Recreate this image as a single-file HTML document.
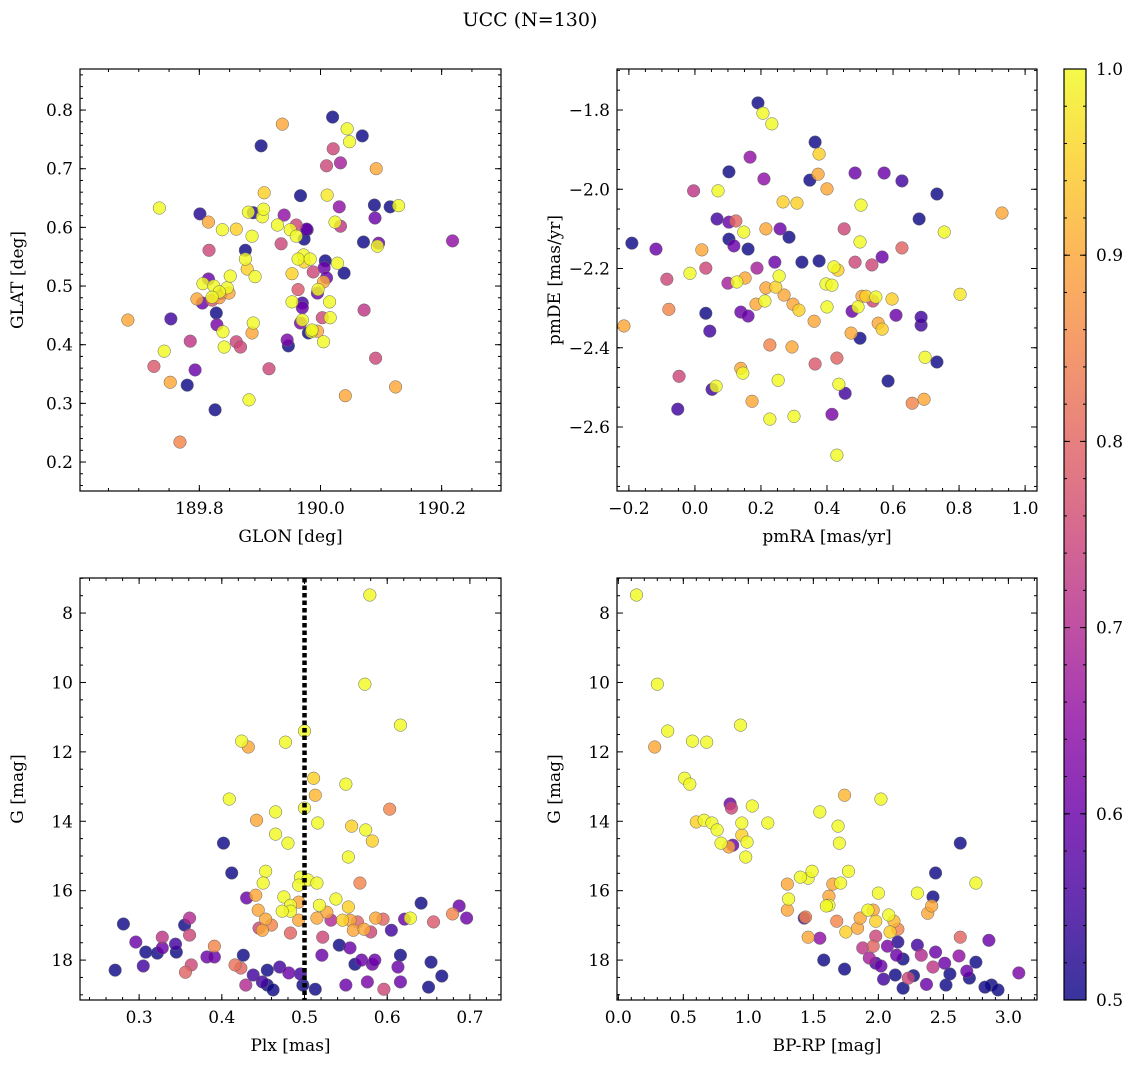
<!DOCTYPE html>
<html><head><meta charset="utf-8">
<style>
body{margin:0;background:#fff;}
svg text{font-family:"DejaVu Serif","Liberation Serif",serif;fill:#000;}
</style></head>
<body>
<svg id="fig" width="1136" height="1068" xmlns="http://www.w3.org/2000/svg">
<defs>
<linearGradient id="plasma" x1="0" y1="1" x2="0" y2="0">
<stop offset="0" stop-color="#0d0887"/><stop offset="0.1" stop-color="#41049d"/><stop offset="0.2" stop-color="#6a00a8"/><stop offset="0.3" stop-color="#8f0da4"/><stop offset="0.4" stop-color="#b12a90"/><stop offset="0.5" stop-color="#cc4778"/><stop offset="0.6" stop-color="#e16462"/><stop offset="0.7" stop-color="#f2844b"/><stop offset="0.8" stop-color="#fca636"/><stop offset="0.9" stop-color="#fcce25"/><stop offset="1" stop-color="#f0f921"/>
</linearGradient>
</defs>
<text x="530" y="26" font-size="19" text-anchor="middle">UCC (N=130)</text>
</svg>
<script>
// Panel 1: GLON / GLAT
const p1Glon=[190.02,190.044,190.069,190.048,189.937,189.902,190.021,190.092,190.010,190.033,189.734,189.801,189.907,189.967,190.011,190.089,190.129,190.115,190.031,189.815,189.838,189.861,189.889,189.881,189.904,189.906,189.929,189.940,189.960,189.978,189.977,190.024,190.033,190.090,189.950,189.887,189.935,189.960,189.973,190.071,190.094,190.096,190.218,189.876,189.816,189.972,189.963,189.983,190.008,189.876,190.028,189.973,190.006,189.988,189.879,190.039,189.953,189.892,190.010,189.815,189.806,189.824,189.846,189.833,189.821,189.849,189.796,189.805,189.821,189.833,189.836,189.851,189.996,189.963,189.995,190.005,189.953,189.970,190.015,190.003,190.072,189.970,189.828,189.829,189.839,189.889,189.970,190.016,189.887,189.841,189.861,189.868,189.945,189.947,189.980,189.985,189.986,189.995,190.005,189.967,189.742,189.752,189.725,189.682,189.753,189.793,189.780,189.915,190.091,190.124,190.041,189.882,189.826,189.768,189.785];
const p1Glat=[0.788,0.768,0.756,0.746,0.776,0.739,0.734,0.700,0.705,0.710,0.633,0.623,0.659,0.654,0.655,0.638,0.637,0.635,0.635,0.609,0.596,0.597,0.625,0.626,0.618,0.631,0.604,0.621,0.604,0.596,0.597,0.609,0.602,0.616,0.596,0.585,0.572,0.585,0.580,0.575,0.568,0.573,0.577,0.561,0.561,0.553,0.546,0.546,0.543,0.546,0.539,0.541,0.531,0.524,0.529,0.522,0.521,0.516,0.514,0.512,0.504,0.500,0.497,0.490,0.481,0.488,0.478,0.471,0.476,0.480,0.487,0.517,0.494,0.494,0.488,0.507,0.473,0.471,0.473,0.446,0.459,0.463,0.454,0.434,0.422,0.437,0.442,0.446,0.420,0.396,0.405,0.396,0.408,0.398,0.420,0.422,0.425,0.423,0.405,0.437,0.389,0.336,0.363,0.442,0.444,0.357,0.331,0.359,0.377,0.328,0.313,0.306,0.289,0.234,0.406];
const p1Prob=[0.5,1,0.5,1,0.9,0.5,0.75,0.9,0.75,0.68,1,0.52,0.95,0.5,0.98,0.5,1,0.5,0.65,0.9,1,0.95,0.52,1,1,1,1,0.65,0.75,0.5,0.6,1,0.72,0.6,1,1,0.75,1,0.5,0.5,1,0.6,0.65,0.5,0.75,1,1,1,0.5,1,1,0.95,0.6,0.75,0.95,0.5,0.95,1,0.6,0.6,1,1,1,1,1,0.9,0.9,0.6,0.78,0.88,0.6,1,1,0.78,0.6,0.9,1,0.55,1,0.75,0.72,0.6,0.5,0.62,1,1,1,1,0.9,1,0.75,0.75,0.62,0.5,0.5,1,1,0.9,1,0.62,1,0.9,0.78,0.9,0.55,0.6,0.5,0.75,0.75,0.9,0.9,1,0.5,0.85,0.72];
// Panel 2: pmRA / pmDE
const p2Pmra=[0.191,0.206,0.233,0.167,0.364,0.376,0.103,0.209,0.348,0.373,0.400,0.485,0.573,0.627,0.733,-0.004,0.070,0.267,0.309,0.503,-0.191,-0.118,-0.085,-0.015,0.033,0.067,0.103,0.124,0.215,0.258,0.285,0.452,0.500,0.679,0.148,0.021,0.103,0.118,0.161,0.100,0.188,0.242,0.324,0.376,0.421,0.433,0.536,0.485,0.567,0.627,0.397,0.245,0.215,0.255,0.152,0.185,0.212,0.127,0.033,0.045,0.139,0.161,0.297,0.315,0.361,0.400,0.270,0.415,0.506,0.518,0.548,0.597,0.494,0.539,0.476,0.555,0.609,0.500,0.567,0.685,0.473,0.733,0.685,0.803,0.930,0.755,0.694,0.658,0.697,0.430,0.227,0.294,0.139,0.145,0.064,0.052,-0.048,0.173,0.252,0.227,0.300,-0.052,0.415,0.430,0.436,0.455,0.364,0.585,-0.215,-0.079];
const p2Pmde=[-1.782,-1.808,-1.835,-1.919,-1.881,-1.911,-1.956,-1.974,-1.977,-1.962,-1.999,-1.959,-1.959,-1.979,-2.012,-2.004,-2.004,-2.032,-2.035,-2.040,-2.136,-2.151,-2.227,-2.212,-2.199,-2.075,-2.083,-2.080,-2.100,-2.100,-2.121,-2.100,-2.133,-2.075,-2.108,-2.153,-2.126,-2.143,-2.151,-2.237,-2.199,-2.184,-2.184,-2.181,-2.196,-2.204,-2.191,-2.184,-2.171,-2.148,-2.239,-2.247,-2.249,-2.219,-2.224,-2.290,-2.282,-2.234,-2.313,-2.358,-2.310,-2.320,-2.290,-2.305,-2.333,-2.297,-2.267,-2.242,-2.270,-2.270,-2.272,-2.277,-2.297,-2.282,-2.308,-2.338,-2.318,-2.376,-2.353,-2.343,-2.363,-2.436,-2.323,-2.265,-2.060,-2.108,-2.530,-2.540,-2.424,-2.426,-2.393,-2.398,-2.452,-2.464,-2.497,-2.505,-2.472,-2.535,-2.482,-2.580,-2.573,-2.555,-2.568,-2.671,-2.492,-2.515,-2.441,-2.484,-2.345,-2.303];
const p2Prob=[0.5,1,1,0.65,0.5,0.95,0.5,0.65,0.5,0.9,0.9,0.6,0.6,0.55,0.5,0.72,1,0.95,0.95,1,0.5,0.6,0.75,1,0.75,0.55,0.6,0.8,0.9,0.6,0.5,0.75,1,0.5,1,0.9,0.5,0.6,0.5,0.68,0.68,0.6,0.5,0.5,1,0.95,0.75,0.75,0.6,0.8,1,0.95,0.9,1,0.9,0.9,1,1,0.5,0.55,0.6,0.6,0.9,0.95,0.9,1,0.9,1,0.9,0.95,1,0.95,1,0.75,0.6,0.9,0.6,0.5,0.95,0.55,0.9,0.5,0.55,0.98,0.9,1,0.9,0.85,1,0.8,0.85,0.9,0.9,1,1,0.55,0.75,0.9,1,1,1,0.55,0.62,1,1,0.55,0.78,0.5,0.9,0.85];
// Panel 3: Plx / G
const p3Plx=[0.579,0.573,0.616,0.500,0.424,0.432,0.477,0.511,0.550,0.513,0.409,0.603,0.465,0.500,0.442,0.516,0.557,0.574,0.465,0.480,0.582,0.402,0.553,0.453,0.412,0.495,0.504,0.515,0.567,0.450,0.430,0.441,0.493,0.475,0.483,0.518,0.527,0.538,0.553,0.493,0.483,0.515,0.444,0.453,0.473,0.493,0.445,0.449,0.460,0.483,0.522,0.532,0.546,0.555,0.559,0.564,0.572,0.580,0.586,0.595,0.605,0.628,0.621,0.641,0.656,0.679,0.687,0.696,0.391,0.355,0.361,0.361,0.344,0.345,0.328,0.308,0.322,0.296,0.328,0.281,0.271,0.305,0.356,0.363,0.382,0.391,0.426,0.416,0.423,0.438,0.429,0.449,0.455,0.455,0.470,0.481,0.462,0.495,0.498,0.513,0.521,0.542,0.555,0.561,0.569,0.550,0.576,0.582,0.585,0.613,0.616,0.616,0.653,0.666,0.650,0.596];
const p3G=[7.48,10.05,11.23,11.40,11.69,11.86,11.72,12.76,12.93,13.25,13.36,13.65,13.73,13.62,13.97,14.05,14.14,14.25,14.37,14.63,14.57,14.63,15.03,15.44,15.49,15.61,15.69,15.78,15.78,15.78,16.21,16.13,15.84,16.18,16.42,16.42,16.62,16.24,16.47,16.33,16.59,16.79,16.56,16.82,16.59,16.85,17.08,17.14,16.99,17.22,17.34,16.85,16.85,16.85,17.14,16.90,17.11,17.19,16.79,16.82,17.14,16.79,16.82,16.36,16.90,16.67,16.44,16.79,17.60,16.99,17.28,16.79,17.54,17.77,17.65,17.77,17.80,17.48,17.34,16.96,18.29,18.17,18.35,18.14,17.91,17.91,17.86,18.14,18.23,18.43,18.72,18.63,18.72,18.29,18.20,18.37,18.86,18.40,18.72,18.84,17.86,17.57,17.65,18.12,18.00,18.72,18.63,18.12,18.00,18.20,18.63,17.86,18.06,18.46,18.78,18.84];
const p3Prob=[1,1,1,1,1,0.9,1,0.95,1,0.92,1,0.85,1,1,0.9,1,0.95,1,1,1,0.95,0.5,1,1,0.5,1,1,1,0.85,1,0.6,0.9,1,1,1,1,0.9,1,0.95,0.9,1,0.9,0.9,0.9,1,0.9,0.75,0.9,0.85,0.8,0.75,0.7,0.95,0.9,0.9,0.8,0.9,0.75,0.9,0.8,0.55,1,0.6,0.5,0.78,0.85,0.6,0.6,0.85,0.5,0.75,0.7,0.55,0.5,0.6,0.5,0.5,0.6,0.72,0.5,0.5,0.55,0.8,0.75,0.6,0.6,0.5,0.82,0.8,0.55,0.7,0.55,0.5,0.5,0.55,0.6,0.5,0.55,0.5,0.5,0.6,0.5,0.6,0.5,0.6,0.6,0.62,0.6,0.6,0.6,0.6,0.5,0.5,0.5,0.5,0.75];
// Panel 4: BP-RP / G
const p4Bprp=[0.14,0.30,0.38,0.28,0.57,0.68,0.94,0.51,0.55,0.66,0.60,0.72,0.76,0.86,0.87,1.03,0.95,0.95,0.99,0.79,0.85,0.88,1.15,0.98,1.55,1.74,2.02,1.46,1.49,1.40,1.65,1.71,1.69,1.70,1.77,1.44,1.30,1.31,1.30,1.62,1.62,1.60,1.46,1.43,1.55,1.58,1.74,1.68,1.75,1.84,1.86,1.92,1.96,1.98,2.00,1.98,1.88,1.93,1.98,1.96,2.08,2.12,2.15,2.09,2.02,2.07,2.14,2.15,2.19,2.04,2.13,2.19,2.23,2.30,2.30,2.33,2.38,2.41,2.42,2.44,2.44,2.42,2.51,2.52,2.62,2.63,2.68,2.70,2.75,2.75,2.85,2.87,2.82,2.92,3.08,2.63,2.27,2.37,2.55];
const p4G=[7.48,10.05,11.40,11.86,11.69,11.72,11.23,12.76,12.93,13.97,14.02,14.05,14.25,13.50,13.62,13.56,14.05,14.40,14.60,14.63,14.74,14.69,14.05,15.03,13.73,13.25,13.36,15.64,15.44,15.61,15.81,15.78,14.14,14.63,15.44,16.76,16.56,16.24,15.81,16.16,16.42,16.44,17.34,16.79,17.37,18.00,18.26,16.88,17.19,17.08,16.79,16.56,16.56,16.88,16.07,17.31,17.65,17.94,18.09,17.60,16.70,16.88,17.11,17.19,18.17,17.60,17.86,17.48,17.97,18.55,18.43,18.81,18.52,17.57,16.07,17.86,16.65,16.44,16.18,15.49,17.77,18.20,18.09,18.72,17.88,17.34,18.32,18.52,15.78,18.06,17.43,18.72,18.78,18.86,18.37,14.63,18.45,18.70,18.40];
const p4Prob=[1,1,1,0.9,1,1,1,1,1,1,0.95,1,1,0.6,0.75,1,1,0.95,1,1,0.9,0.6,1,1,1,0.92,1,1,1,1,0.9,1,1,1,1,0.85,0.9,1,0.9,0.9,1,1,0.9,0.55,0.65,0.5,0.5,0.85,0.95,0.9,0.9,1,0.9,0.95,1,0.75,0.72,0.68,0.55,0.8,1,0.92,0.85,0.95,0.6,0.62,0.6,0.52,0.5,0.55,0.5,0.5,0.75,0.55,1,0.7,0.9,0.9,0.5,0.5,0.6,0.72,0.6,0.5,0.65,0.8,0.6,0.5,1,0.5,0.6,0.5,0.5,0.5,0.62,0.5,0.5,0.6,0.5];
const cbTicks=[0.5,0.6,0.7,0.8,0.9,1.0];

const NS='http://www.w3.org/2000/svg';
const svg=document.getElementById('fig');
function mk(tag,attrs,parent){const e=document.createElementNS(NS,tag);for(const k in attrs)e.setAttribute(k,attrs[k]);(parent||svg).appendChild(e);return e;}
const stops=[[13,8,135],[65,4,157],[106,0,168],[143,13,164],[177,42,144],[204,71,120],[225,100,98],[242,132,75],[252,166,54],[252,206,37],[240,249,33]];
function plasma(p){let t=(p-0.5)/0.5;t=Math.max(0,Math.min(1,t))*10;const i=Math.min(9,Math.floor(t)),f=t-i;const a=stops[i],b=stops[i+1];return 'rgb('+a.map((v,k)=>Math.round(v+(b[k]-v)*f)).join(',')+')';}
function fmt(v,d){return (v<0?'\u2212':'')+Math.abs(v).toFixed(d);}
const FS=17;

function panel(cfg){
  const {L,T,R,B,xmin,xmax,ymin,ymax,xMaj,xMin,yMaj,yMin,xd,yd,xlabel,ylabel,name}=cfg;
  const g=mk('g',{});
  
  
  const sx=v=>L+(v-xmin)/(xmax-xmin)*(R-L);
  const sy=v=>T+(ymax-v)/(ymax-ymin)*(B-T);
  cfg.sx=sx;cfg.sy=sy;cfg.g=g;
  const ticks=(arr,len,isX,labels,d)=>{arr.forEach(v=>{
    if(isX){const x=sx(v);if(x<L-0.5||x>R+0.5)return;
      mk('line',{x1:x,y1:B,x2:x,y2:B-len,stroke:'#000','stroke-width':1},g);
      mk('line',{x1:x,y1:T,x2:x,y2:T+len,stroke:'#000','stroke-width':1},g);
      if(labels){const t=mk('text',{x:x,y:B+23,'font-size':FS,'text-anchor':'middle'},g);t.textContent=fmt(v,d);
        }
    }else{const y=sy(v);if(y<T-0.5||y>B+0.5)return;
      mk('line',{x1:L,y1:y,x2:L+len,y2:y,stroke:'#000','stroke-width':1},g);
      mk('line',{x1:R,y1:y,x2:R-len,y2:y,stroke:'#000','stroke-width':1},g);
      if(labels){const t=mk('text',{x:L-7,y:y+6,'font-size':FS,'text-anchor':'end'},g);t.textContent=fmt(v,d);
        }
    }});};
  ticks(xMin,3,true,false);ticks(xMaj,6,true,true,xd);
  ticks(yMin,3,false,false);ticks(yMaj,6,false,true,yd);
  const xl=mk('text',{x:(L+R)/2,y:B+51,'font-size':FS,'text-anchor':'middle'},g);xl.textContent=xlabel;
  
  const yl=mk('text',{x:0,y:0,'font-size':FS,'text-anchor':'middle',transform:`translate(${L-57},${(T+B)/2}) rotate(-90)`},g);yl.textContent=ylabel;
  
  return cfg;
}
function frame(c){const r=mk('rect',{x:c.L,y:c.T,width:c.R-c.L,height:c.B-c.T,fill:'none',stroke:'#000','stroke-width':1.2},c.g);
  }
function scatter(c,xs,ys,ps){
  const idx=ps.map((p,i)=>i).sort((a,b)=>ps[a]-ps[b]);
  idx.forEach(i=>{const x=c.sx(xs[i]),y=c.sy(ys[i]);
    const e=mk('circle',{cx:x,cy:y,r:6.3,fill:plasma(ps[i]),'fill-opacity':0.82,stroke:'#666','stroke-width':0.5},c.g);
    
    });
}
function range(a,b,s){const r=[];for(let v=a;v<=b+1e-9;v+=s)r.push(+v.toFixed(6));return r;}

const c1=panel({name:'glon-glat-panel',L:80,T:69,R:501,B:491,xmin:189.603,xmax:190.298,ymin:0.1506,ymax:0.870,
  xMaj:[189.8,190.0,190.2],xMin:range(189.6,190.3,0.05),yMaj:range(0.2,0.8,0.1),yMin:range(0.16,0.86,0.02),xd:1,yd:1,xlabel:'GLON [deg]',ylabel:'GLAT [deg]'});
scatter(c1,p1Glon,p1Glat,p1Prob);frame(c1);

const c2=panel({name:'pm-panel',L:617,T:69,R:1037,B:491,xmin:-0.236,xmax:1.036,ymin:-2.7615,ymax:-1.6965,
  xMaj:range(-0.2,1.0,0.2),xMin:range(-0.2,1.0,0.05),yMaj:range(-2.6,-1.8,0.2),yMin:range(-2.75,-1.7,0.05),xd:1,yd:1,xlabel:'pmRA [mas/yr]',ylabel:'pmDE [mas/yr]'});
scatter(c2,p2Pmra,p2Pmde,p2Prob);frame(c2);

const c3=panel({name:'plx-g-panel',L:80,T:578,R:501,B:1000,xmin:0.2285,xmax:0.7376,ymin:-19.15,ymax:-6.99,
  xMaj:range(0.3,0.7,0.1),xMin:range(0.24,0.72,0.02),yMaj:[],yMin:[],xd:1,yd:0,xlabel:'Plx [mas]',ylabel:'G [mag]'});
const c4=panel({name:'bprp-g-panel',L:617,T:578,R:1037,B:1000,xmin:-0.01,xmax:3.22,ymin:-19.15,ymax:-6.99,
  xMaj:range(0,3,0.5),xMin:range(0,3.2,0.1),yMaj:[],yMin:[],xd:1,yd:0,xlabel:'BP-RP [mag]',ylabel:'G [mag]'});
[c3,c4].forEach(c=>{
  range(7,19,0.5).forEach(v=>{const y=c.sy(-v);const len=(v%2===0)?6:3;
    mk('line',{x1:c.L,y1:y,x2:c.L+len,y2:y,stroke:'#000'},c.g);mk('line',{x1:c.R,y1:y,x2:c.R-len,y2:y,stroke:'#000'},c.g);
    if(v%2===0&&v>=8&&v<=18){const t=mk('text',{x:c.L-7,y:y+6,'font-size':FS,'text-anchor':'end'},c.g);t.textContent=v;
      }});
});
scatter(c3,p3Plx,p3G.map(v=>-v),p3Prob);
const dl=mk('line',{x1:c3.sx(0.5),y1:c3.T,x2:c3.sx(0.5),y2:c3.B,stroke:'#000','stroke-width':4.5,'stroke-dasharray':'4.5 3'},c3.g);

frame(c3);
scatter(c4,p4Bprp,p4G.map(v=>-v),p4Prob);frame(c4);

const cb=mk('g',{});


const cL=1064,cR=1086,cT=69,cB=1000;
mk('rect',{x:cL,y:cT,width:cR-cL,height:cB-cT,fill:'url(#plasma)','fill-opacity':0.82},cb);
mk('rect',{x:cL,y:cT,width:cR-cL,height:cB-cT,fill:'none',stroke:'#000','stroke-width':1.2},cb);
const cy=v=>cB-(v-0.5)/0.5*(cB-cT);
range(0.5,1.0,0.02).forEach(v=>{mk('line',{x1:cR,y1:cy(v),x2:cR-3,y2:cy(v),stroke:'#000'},cb);mk('line',{x1:cL,y1:cy(v),x2:cL+3,y2:cy(v),stroke:'#000'},cb);});
cbTicks.forEach(v=>{mk('line',{x1:cR,y1:cy(v),x2:cR-6,y2:cy(v),stroke:'#000'},cb);mk('line',{x1:cL,y1:cy(v),x2:cL+6,y2:cy(v),stroke:'#000'},cb);
  const t=mk('text',{x:cR+10,y:cy(v)+6,'font-size':FS},cb);t.textContent=v.toFixed(1);
  });
</script>
</body></html>
